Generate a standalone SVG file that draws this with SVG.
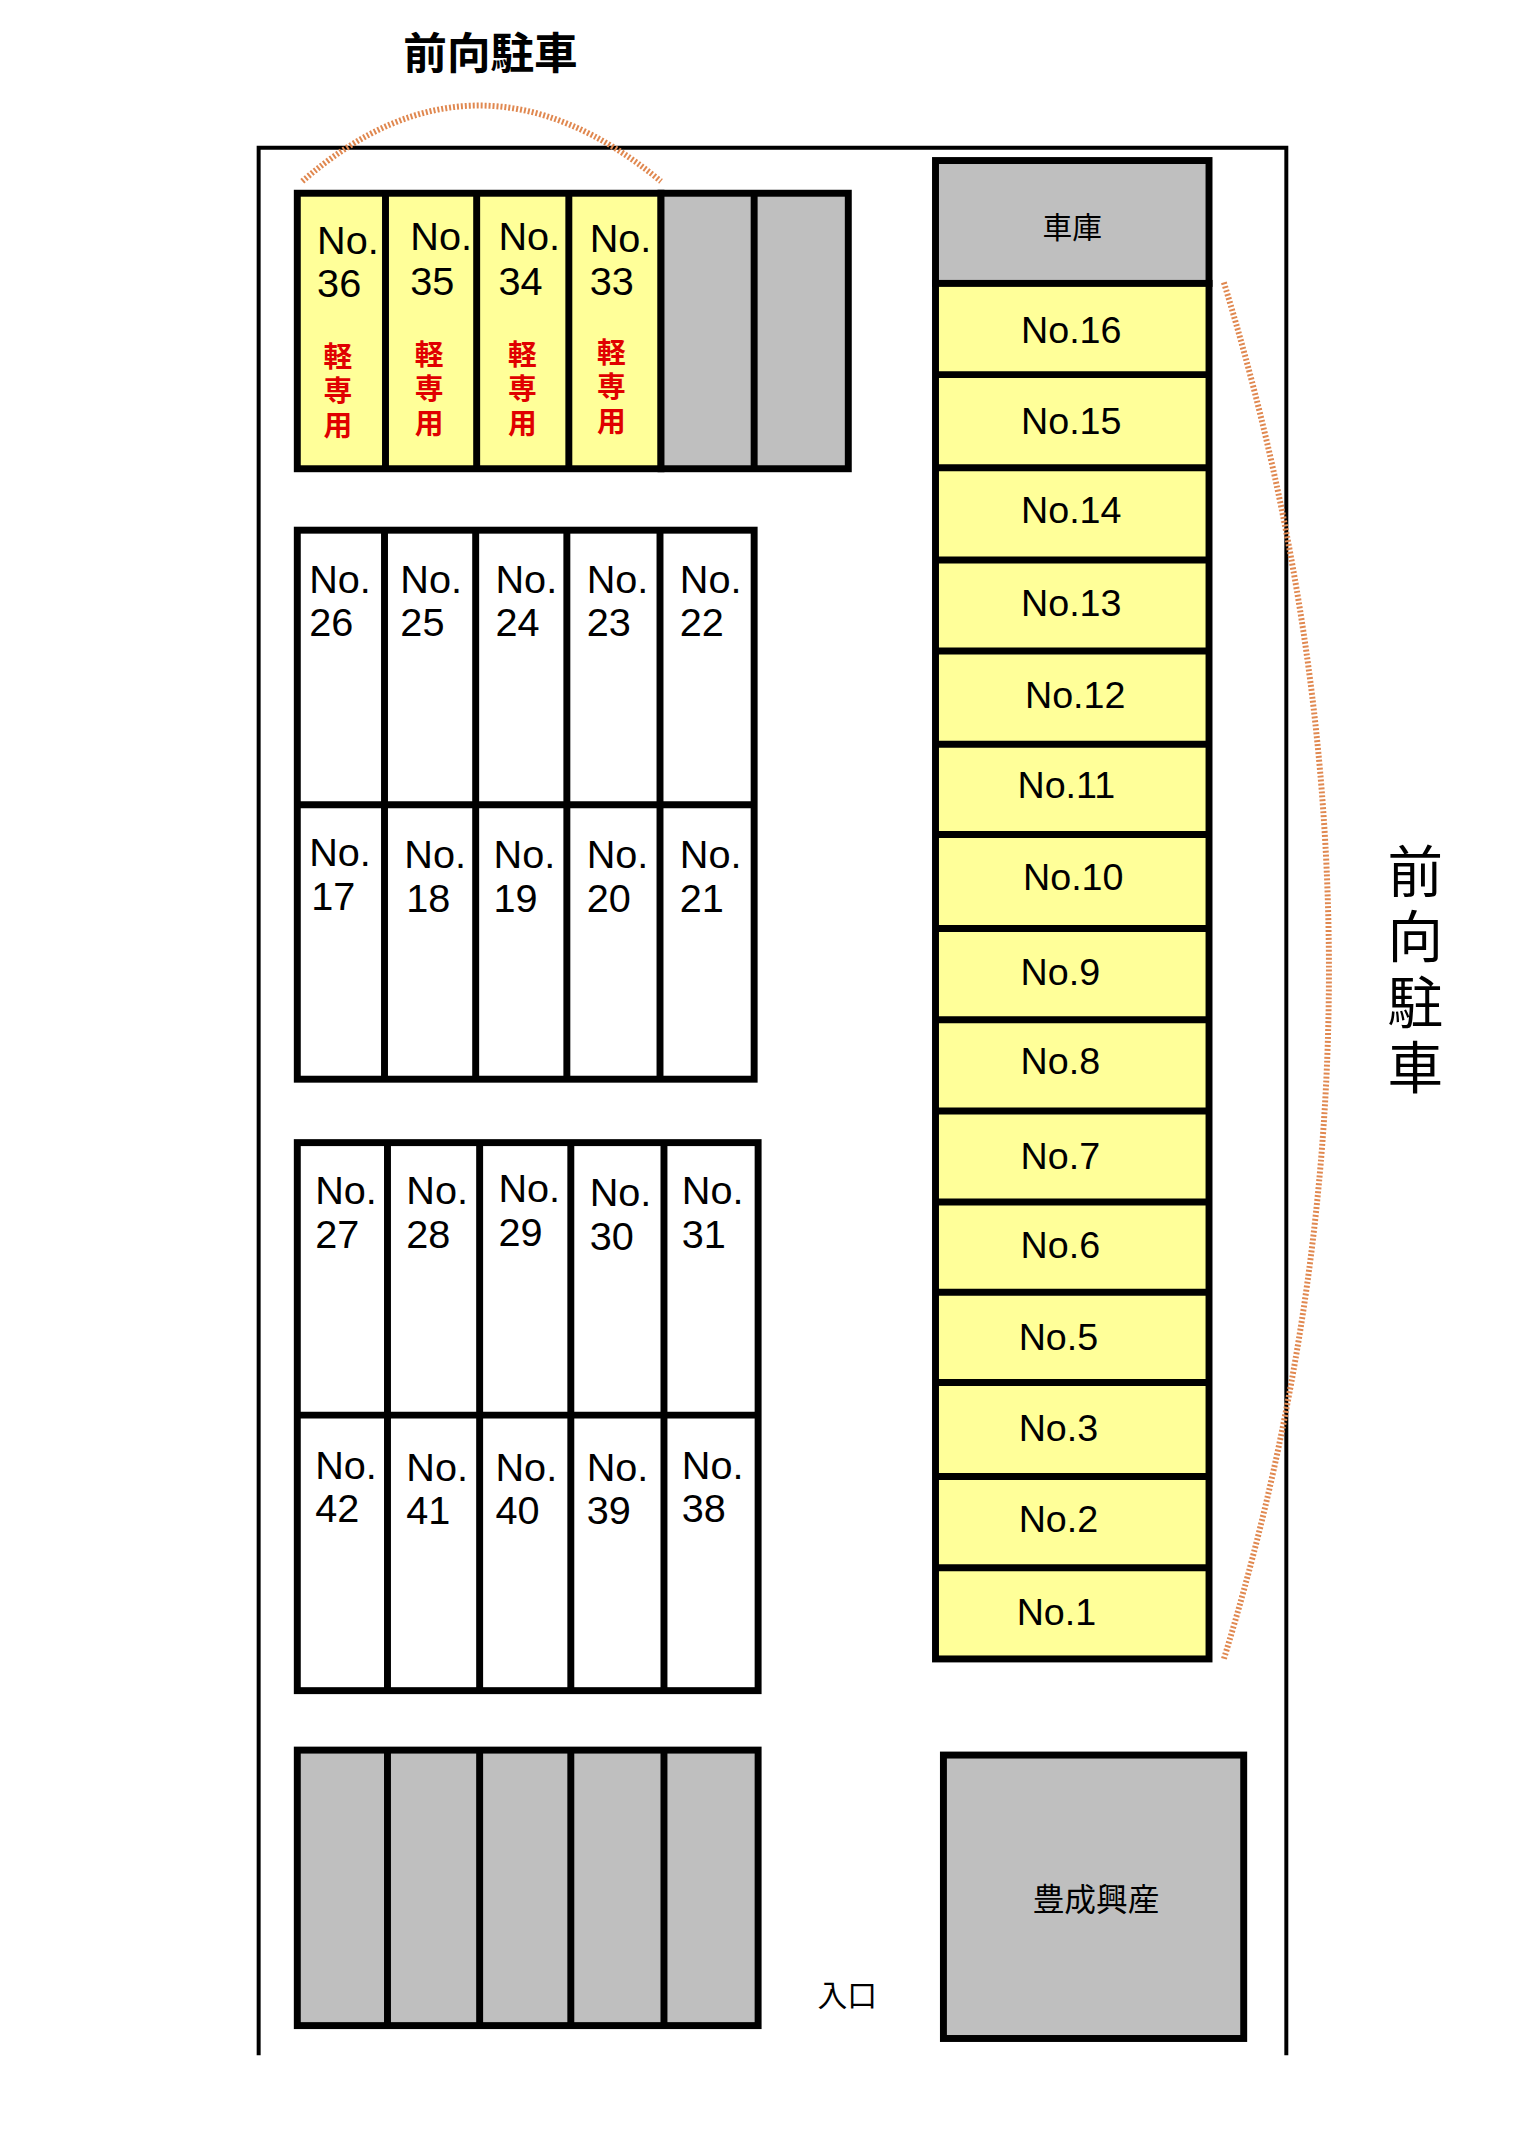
<svg xmlns="http://www.w3.org/2000/svg" width="1513" height="2136" viewBox="0 0 1513 2136">
<style>
.s{stroke:#000;stroke-width:7;}
.y{fill:#ffff99;}
.g{fill:#bfbfbf;}
.w{fill:#fff;}
.t{font-family:"Liberation Sans","Noto Sans CJK JP",sans-serif;font-size:40px;fill:#000;}
.r{font-family:"Noto Sans CJK JP",sans-serif;font-size:29px;font-weight:bold;fill:#e00000;text-anchor:middle;}
.c{text-anchor:middle;}
.arc{fill:none;stroke:#e08850;stroke-width:6;stroke-dasharray:2 2;}
</style>
<rect width="1513" height="2136" fill="#fff"/>
<g transform="scale(0.991)">
<g id="border"><path d="M261 2074 V149 H1298 V2074" fill="none" stroke="#000" stroke-width="4"/></g>
<g id="connectors">
<path class="arc" d="M305 183 Q481 30 667 183"/>
<path class="arc" d="M1235 285 Q1447 980 1235 1674"/>
</g>
<text class="t c" x="495" y="70" style="font-family:'Noto Sans CJK JP',sans-serif;font-size:44px;font-weight:bold">前向駐車</text>
<g id="vtitle" class="t c" style="font-family:'Noto Sans CJK JP',sans-serif;font-size:56px">
<text x="1428" y="900">前</text><text x="1428" y="966">向</text><text x="1428" y="1032">駐</text><text x="1428" y="1098">車</text></g>
<g id="top-row">
<rect class="s y" x="300" y="195" width="367" height="278"/>
<rect class="s g" x="667" y="195" width="189" height="278"/>
<path class="s" d="M389 195V473M481 195V473M574 195V473M761 195V473"/>
<g class="t"><text x="320" y="256">No.</text><text x="320" y="300">36</text>
<text x="414" y="252">No.</text><text x="414" y="298">35</text>
<text x="503" y="252">No.</text><text x="503" y="298">34</text>
<text x="595" y="254">No.</text><text x="595" y="298">33</text></g>
<g class="r"><text x="341" y="370">軽</text><text x="341" y="405">専</text><text x="341" y="440">用</text>
<text x="433" y="368">軽</text><text x="433" y="403">専</text><text x="433" y="438">用</text>
<text x="527" y="368">軽</text><text x="527" y="403">専</text><text x="527" y="438">用</text>
<text x="617" y="366">軽</text><text x="617" y="401">専</text><text x="617" y="436">用</text></g>
</g>
<g id="block2">
<rect class="s w" x="300" y="535" width="461" height="554"/>
<path class="s" d="M300 812H761M388 535V1089M480 535V1089M572 535V1089M666 535V1089"/>
<g class="t"><text x="312" y="598">No.</text><text x="312" y="642">26</text>
<text x="404" y="598">No.</text><text x="404" y="642">25</text>
<text x="500" y="598">No.</text><text x="500" y="642">24</text>
<text x="592" y="598">No.</text><text x="592" y="642">23</text>
<text x="686" y="598">No.</text><text x="686" y="642">22</text>
<text x="312" y="874">No.</text><text x="314" y="918">17</text>
<text x="408" y="876">No.</text><text x="410" y="920">18</text>
<text x="498" y="876">No.</text><text x="498" y="920">19</text>
<text x="592" y="876">No.</text><text x="592" y="920">20</text>
<text x="686" y="876">No.</text><text x="686" y="920">21</text></g>
</g>
<g id="block3">
<rect class="s w" x="300" y="1153" width="465" height="553"/>
<path class="s" d="M300 1428H765M391 1153V1706M484 1153V1706M576 1153V1706M670 1153V1706"/>
<g class="t"><text x="318" y="1215">No.</text><text x="318" y="1259">27</text>
<text x="410" y="1215">No.</text><text x="410" y="1259">28</text>
<text x="503" y="1213">No.</text><text x="503" y="1257">29</text>
<text x="595" y="1217">No.</text><text x="595" y="1261">30</text>
<text x="688" y="1215">No.</text><text x="688" y="1259">31</text>
<text x="318" y="1492">No.</text><text x="318" y="1536">42</text>
<text x="410" y="1494">No.</text><text x="410" y="1538">41</text>
<text x="500" y="1494">No.</text><text x="500" y="1538">40</text>
<text x="592" y="1494">No.</text><text x="592" y="1538">39</text>
<text x="688" y="1492">No.</text><text x="688" y="1536">38</text></g>
</g>
<g id="gray-block">
<rect class="s g" x="300" y="1766" width="465" height="278"/>
<path class="s" d="M391 1766V2044M484 1766V2044M576 1766V2044M670 1766V2044"/>
</g>
<g id="right-column">
<rect class="s g" x="944" y="162" width="276" height="124"/>
<text class="t c" x="1082" y="240" style="font-family:'Noto Sans CJK JP',sans-serif;font-size:30px">車庫</text>
<rect class="s y" x="944" y="286" width="276" height="1388"/>
<path class="s" d="M944 378H1220M944 472H1220M944 565H1220M944 657H1220M944 751H1220M944 842H1220M944 937H1220M944 1029H1220M944 1121H1220M944 1213H1220M944 1304H1220M944 1395H1220M944 1490H1220M944 1582H1220"/>
<g class="t c" style="font-size:38px">
<text x="1081" y="346">No.16</text><text x="1081" y="438">No.15</text><text x="1081" y="528">No.14</text>
<text x="1081" y="622">No.13</text><text x="1085" y="714">No.12</text><text x="1076" y="805">No.11</text>
<text x="1083" y="898">No.10</text><text x="1070" y="994">No.9</text><text x="1070" y="1084">No.8</text>
<text x="1070" y="1180">No.7</text><text x="1070" y="1269">No.6</text><text x="1068" y="1362">No.5</text>
<text x="1068" y="1454">No.3</text><text x="1068" y="1546">No.2</text><text x="1066" y="1640">No.1</text></g>
</g>
<g id="office">
<rect class="s g" x="952" y="1771" width="303" height="286"/>
<text class="t c" x="1106" y="1928" style="font-family:'Noto Sans CJK JP',sans-serif;font-size:32px">豊成興産</text>
</g>
<text class="t c" x="855" y="2024" style="font-family:'Noto Sans CJK JP',sans-serif;font-size:30px">入口</text>
</g>
</svg>
